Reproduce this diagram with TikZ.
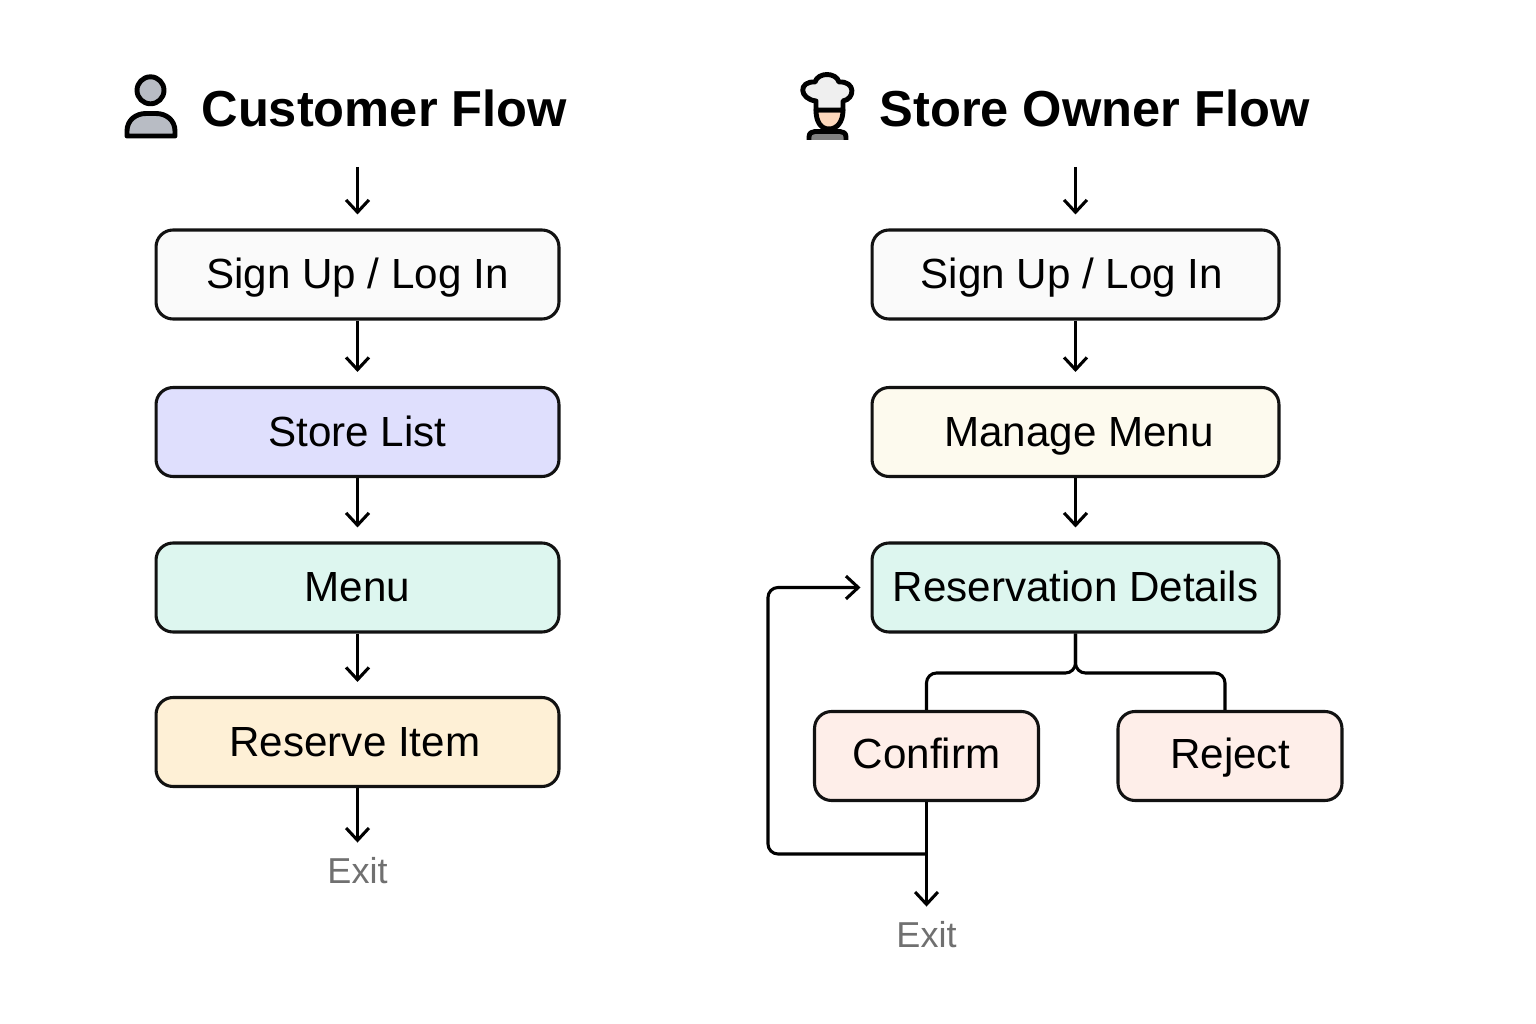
\documentclass[tikz,border=0pt]{standalone}
\usepackage{fontspec}
\setmainfont{Liberation Sans}
\usetikzlibrary{arrows.meta}

\begin{document}
\begin{tikzpicture}[x=0.02cm, y=-0.02cm, >={Straight Barb[length=7pt, width=13pt]}, line width=1.75pt]
    % gaya simpul
    \tikzstyle{flowbox}=[draw=black!93, rounded corners=0.34cm, minimum height=1.78cm, text height=16.5pt, text depth=0pt, inner sep=0pt, font=\fontsize{24}{28}\selectfont]
    \tikzstyle{leftbox}=[flowbox, minimum width=8.06cm]
    \tikzstyle{rightbox}=[flowbox, minimum width=8.14cm]
    \tikzstyle{smallbox}=[flowbox, minimum width=4.48cm, fill=confirmfill, text height=14.5pt]
    \tikzstyle{flowtitle}=[anchor=base west, inner sep=0pt, font=\fontsize{28.8}{34}\selectfont\bfseries]
    \tikzstyle{exittext}=[inner sep=0pt, text=exitgray, text height=14.7pt, text depth=0pt, font=\fontsize{20.5}{24}\selectfont]
    \tikzstyle{flowarrow}=[->, shorten >=0.28cm]
    \tikzstyle{icon}=[line width=2.8pt, draw=black, line join=round]

    % warna
    \definecolor{signfill}{HTML}{FAFAFA}
    \definecolor{storefill}{HTML}{DFDFFD}
    \definecolor{mintfill}{HTML}{DDF6EF}
    \definecolor{reservefill}{HTML}{FEF0D6}
    \definecolor{managefill}{HTML}{FDFAEE}
    \definecolor{confirmfill}{HTML}{FEEEE9}
    \definecolor{exitgray}{HTML}{707070}
    \definecolor{icongray}{HTML}{B8BCC4}
    \definecolor{skinfill}{HTML}{FDD8BC}
    \definecolor{hatfill}{HTML}{EFEFEF}
    \definecolor{shirtgray}{HTML}{808080}

    \useasboundingbox (0,0) rectangle (1536,1024);

    % judul
    \node[flowtitle] (customertitle) at (200,127) {Customer Flow};
    \node[flowtitle] (ownertitle) at (878,127) {Store Owner Flow};

    % ikon pelanggan
    \draw[icon, fill=icongray] (150.5,90.3) circle (13.5);
    \draw[icon, fill=icongray] (127,136) -- (127,131) .. controls (127,120) and (136,113.5) .. (146,113.5) -- (156,113.5) .. controls (166,113.5) and (175,120) .. (175,131) -- (175,136) -- cycle;

    % ikon koki
    \draw[icon, fill=skinfill] (816,110) .. controls (816,122) and (821,129) .. (829,129) .. controls (837,129) and (843,122) .. (843,110) -- cycle;
    \draw[icon, fill=hatfill] (816,110) -- (816,101) .. controls (799,99) and (798,81) .. (815,82) .. controls (818,72) and (836,72) .. (839,82) .. controls (856,81) and (855,99) .. (843,101) -- (843,110) -- cycle;
    \draw[icon, fill=shirtgray] (809,140) -- (809,137) .. controls (809,133) and (812,131.5) .. (815,131.5) -- (840,131.5) .. controls (843,131.5) and (846,133) .. (846,137) -- (846,140);

    % posisi simpul kiri
    \coordinate (customerstart) at (357.5,167);
    \node[leftbox, fill=signfill] (customersign) at (357.5,274.5) {Sign Up / Log In};
    \node[leftbox, fill=storefill] (storelist) at (357.5,432) {Store List};
    \node[leftbox, fill=mintfill] (menu) at (357.5,587.5) {Menu};
    \node[leftbox, fill=reservefill] (reserve) at (357.5,742) {\hspace*{-3pt}Reserve Item};
    \node[exittext] (customerexit) at (357.5,871) {Exit};

    % posisi simpul kanan
    \coordinate (ownerstart) at (1075.5,167);
    \node[rightbox, fill=signfill] (ownersign) at (1075.5,274.5) {\hspace*{-4pt}Sign Up / Log In};
    \node[rightbox, fill=managefill] (managemenu) at (1075.5,432) {\hspace*{4pt}Manage Menu};
    \node[rightbox, fill=mintfill] (details) at (1075.5,587.5) {Reservation Details};
    \node[smallbox] (confirm) at (926.5,756) {Confirm};
    \node[smallbox] (reject) at (1230,756) {Reject};
    \node[exittext] (ownerexit) at (926.5,935) {Exit};

    % titik bantu
    \coordinate (forkleft) at (926.5,673);
    \coordinate (forkright) at (1225,673);
    \coordinate (loopstart) at (926.5,854);
    \coordinate (loopcorner) at (768,854);

    % panah kiri
    \draw[flowarrow] (customerstart) -- (customersign);
    \draw[flowarrow] (customersign) -- (storelist);
    \draw[flowarrow] (storelist) -- (menu);
    \draw[flowarrow] (menu) -- (reserve);
    \draw[flowarrow] (reserve) -- (customerexit);

    % panah kanan
    \draw[flowarrow] (ownerstart) -- (ownersign);
    \draw[flowarrow] (ownersign) -- (managemenu);
    \draw[flowarrow] (managemenu) -- (details);
    \draw[rounded corners=0.2cm] (details.south) |- (forkleft) -- (confirm.north);
    \draw[rounded corners=0.2cm] (details.south) |- (forkright) -- (forkright |- reject.north);
    \draw[flowarrow] (confirm) -- (ownerexit);
    \draw[->, shorten >=0.2cm, rounded corners=0.2cm] (loopstart) -- (loopcorner) |- (details.west);
\end{tikzpicture}
\end{document}
